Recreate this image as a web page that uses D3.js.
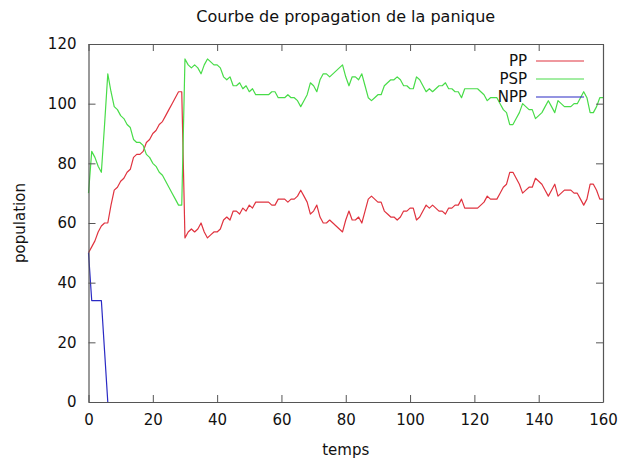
<!DOCTYPE html>
<html>
<head>
<meta charset="utf-8">
<script src="https://cdn.jsdelivr.net/npm/d3@7"></script>
<style>
  html, body { margin: 0; padding: 0; background: #fff; }
  svg { display: block; font-family: "DejaVu Sans", sans-serif; }
</style>
</head>
<body>
<svg id="chart" width="623" height="462"></svg>
<script>
// Panic propagation simulation: one sample per time step.
const seriesNames = ["PP", "PSP", "NPP"];

const ppValues = [
  50, 52, 54, 57, 59, 60, 60, 66, 71, 72,
  74, 75, 77, 78, 82, 83, 83, 84, 87, 88,
  90, 91, 93, 94, 96, 98, 100, 102, 104, 104,
  55, 57, 58, 57, 58, 60, 57, 55, 56, 57,
  57, 58, 61, 62, 61, 64, 64, 63, 65, 64,
  66, 65, 67, 67, 67, 67, 67, 66, 66, 68,
  68, 68, 67, 68, 68, 69, 71, 69, 67, 63,
  64, 66, 62, 60, 60, 61, 60, 59, 58, 57,
  61, 64, 61, 61, 62, 60, 64, 68, 69, 68,
  67, 67, 64, 63, 62, 62, 61, 62, 64, 64,
  65, 65, 61, 62, 64, 66, 65, 66, 65, 64,
  64, 63, 65, 65, 66, 66, 68, 65, 65, 65,
  65, 65, 66, 67, 69, 68, 68, 68, 70, 72,
  73, 77, 77, 75, 73, 70, 71, 72, 72, 75,
  74, 73, 71, 69, 71, 73, 69, 70, 71, 71,
  71, 70, 70, 68, 66, 68, 73, 73, 71, 68, 68
];

const pspValues = [
  70, 84, 82, 79, 77, 93, 110, 104, 99, 98,
  96, 95, 93, 92, 88, 87, 87, 86, 83, 82,
  80, 79, 77, 76, 74, 72, 70, 68, 66, 66,
  115, 113, 112, 113, 112, 110, 113, 115, 114, 113,
  113, 112, 109, 108, 109, 106, 106, 107, 105, 106,
  104, 105, 103, 103, 103, 103, 103, 104, 104, 102,
  102, 102, 103, 102, 102, 101, 99, 101, 103, 107,
  106, 104, 108, 110, 110, 109, 110, 111, 112, 113,
  109, 106, 109, 109, 108, 110, 106, 102, 101, 102,
  103, 103, 106, 107, 108, 108, 109, 108, 106, 106,
  105, 105, 109, 108, 106, 104, 105, 104, 105, 106,
  106, 107, 105, 105, 104, 104, 102, 105, 105, 105,
  105, 105, 104, 103, 101, 102, 102, 102, 100, 98,
  97, 93, 93, 95, 97, 100, 99, 98, 98, 95,
  96, 97, 99, 101, 99, 97, 101, 100, 99, 99,
  99, 100, 100, 102, 104, 102, 97, 97, 99, 102, 102
];

const nppValues = [50, 34, 34, 34, 34, 17, 0];

const xTicks = [0, 20, 40, 60, 80, 100, 120, 140, 160];
const yTicks = [0, 20, 40, 60, 80, 100, 120];

const colors = { PP: "#e0333f", PSP: "#48dc48", NPP: "#2a2ac4" };

const svg = d3.select("#chart");
const frame = { left: 88.5, right: 603, top: 44, bottom: 402 };

const x = d3.scaleLinear().domain([0, 160]).range([frame.left, frame.right]);
const y = d3.scaleLinear().domain([0, 120]).range([frame.bottom, frame.top]);

const toPoints = vals => vals.map((v, i) => ({ t: i, v }));
const series = [
  { name: "PP", points: toPoints(ppValues) },
  { name: "PSP", points: toPoints(pspValues) },
  { name: "NPP", points: toPoints(nppValues) }
];

const line = d3.line().x(d => x(d.t)).y(d => y(d.v));

// Data lines
const plot = svg.append("g");
series.forEach(s => {
  plot.append("path")
    .datum(s.points)
    .attr("fill", "none")
    .attr("stroke", colors[s.name])
    .attr("stroke-width", 1.2)
    .attr("stroke-linejoin", "round")
    .attr("d", line);
});

// Border with inward ticks on all four sides
const axisColor = "#555";
const tickLen = 7;
const axisFont = "15px";

const axisBottomG = svg.append("g").attr("transform", `translate(0,${frame.bottom})`)
  .call(d3.axisBottom(x).tickValues(xTicks).tickSizeInner(-tickLen).tickSizeOuter(0).tickPadding(12));
const axisTopG = svg.append("g").attr("transform", `translate(0,${frame.top})`)
  .call(d3.axisTop(x).tickValues(xTicks).tickSizeInner(-tickLen).tickSizeOuter(0).tickFormat(""));
const axisLeftG = svg.append("g").attr("transform", `translate(${frame.left},0)`)
  .call(d3.axisLeft(y).tickValues(yTicks).tickSizeInner(-tickLen).tickSizeOuter(0).tickPadding(12));
const axisRightG = svg.append("g").attr("transform", `translate(${frame.right},0)`)
  .call(d3.axisRight(y).tickValues(yTicks).tickSizeInner(-tickLen).tickSizeOuter(0).tickFormat(""));

[axisBottomG, axisTopG, axisLeftG, axisRightG].forEach(g => {
  g.select(".domain").attr("stroke", axisColor).attr("stroke-width", 1.2);
  g.selectAll(".tick line").attr("stroke", axisColor).attr("stroke-width", 1);
  g.selectAll(".tick text")
    .attr("fill", "#111")
    .style("font-size", axisFont)
    .style("font-family", "DejaVu Sans, sans-serif");
});

// Title and axis labels
svg.append("text")
  .attr("x", (frame.left + frame.right) / 2)
  .attr("y", 22)
  .attr("text-anchor", "middle")
  .attr("fill", "#111")
  .style("font-size", "16px")
  .text("Courbe de propagation de la panique");

svg.append("text")
  .attr("x", (frame.left + frame.right) / 2)
  .attr("y", 455)
  .attr("text-anchor", "middle")
  .attr("fill", "#111")
  .style("font-size", "15px")
  .text("temps");

svg.append("text")
  .attr("transform", `translate(25,${(frame.top + frame.bottom) / 2}) rotate(-90)`)
  .attr("text-anchor", "middle")
  .attr("fill", "#111")
  .style("font-size", "15px")
  .text("population");

// Key
const key = svg.append("g");
seriesNames.forEach((name, i) => {
  const ky = 61 + i * 18;
  key.append("text")
    .attr("x", 527)
    .attr("y", ky)
    .attr("dy", "0.35em")
    .attr("text-anchor", "end")
    .attr("fill", "#111")
    .style("font-size", "15px")
    .text(name);
  key.append("line")
    .attr("x1", 536).attr("x2", 584)
    .attr("y1", ky).attr("y2", ky)
    .attr("stroke", colors[name])
    .attr("stroke-width", 1.2);
});
</script>
</body>
</html>
